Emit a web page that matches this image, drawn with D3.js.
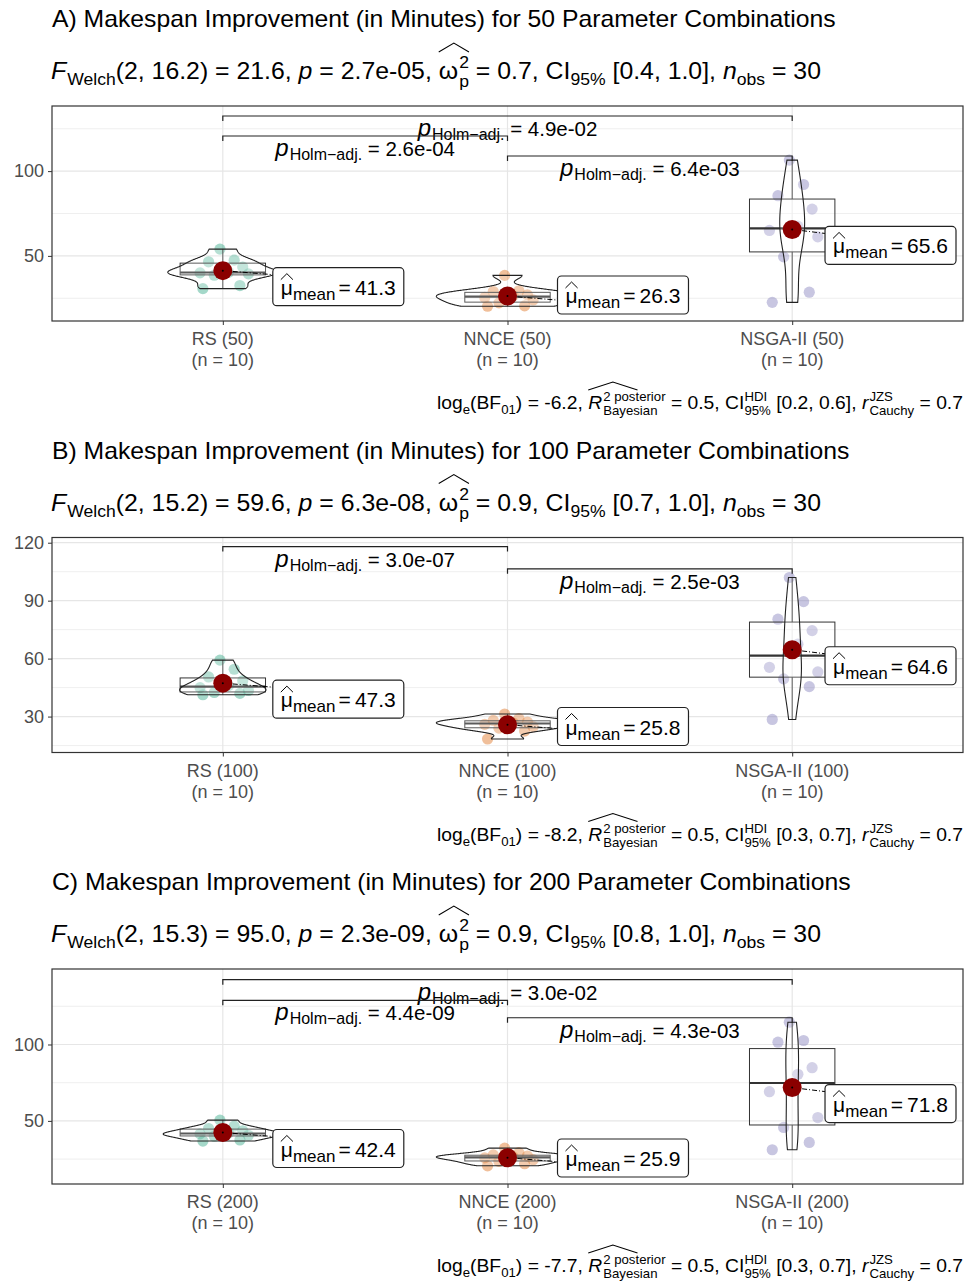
<!DOCTYPE html>
<html><head><meta charset="utf-8">
<script src="https://cdn.jsdelivr.net/npm/d3@7"></script>
<style>
body{margin:0;background:#fff}
svg{display:block}
text{font-family:"Liberation Sans", Arial, sans-serif; white-space:pre}
</style>
</head><body>
<svg id="chart" width="978" height="1283"></svg>
<script>
// ---------------- DATA ----------------
const groups = ["RS", "NNCE", "NSGA-II"];
const combos = [50, 100, 200];
const panelLetters = ["A", "B", "C"];
const nPerGroup = ["10", "10", "10"];

const rs50    = [30.7, 32.5, 38.6, 39.4, 40, 40.4, 43.4, 46.5, 47.5, 54];
const nnce50  = [20.3, 20.5, 22.3, 24, 25.5, 26.5, 27, 29, 29.4, 38.5];
const nsga50  = [22.6, 28.6, 49.4, 61.2, 65, 67.5, 77.6, 85.5, 92.1, 106.5];

const rs100   = [41.3, 42, 42.5, 43.5, 45, 46, 48.5, 50.5, 54.5, 59.2];
const nnce100 = [18.4, 22.5, 24, 24.8, 26, 26.8, 27.2, 28, 29, 31.3];
const nsga100 = [28.5, 45.5, 49.5, 53.1, 55.5, 67.5, 74.5, 80.4, 89.5, 102];

const rs200   = [36.8, 37.5, 40, 40.6, 41.5, 42, 43.5, 45, 46.6, 50.5];
const nnce200 = [20.6, 22, 23.5, 24.6, 25.8, 26.4, 27, 27.7, 29.2, 32.2];
const nsga200 = [31.1, 35.9, 45.7, 52.2, 69.1, 80.5, 84.8, 101.5, 102.6, 114.6];

// Welch ANOVA results
const welchDf2 = ["16.2", "15.2", "15.3"];
const welchF   = ["21.6", "59.6", "95.0"];
const welchP   = ["2.7e-05", "6.3e-08", "2.3e-09"];
const omegaSq  = ["0.7", "0.9", "0.9"];
const omegaCI  = ["[0.4, 1.0]", "[0.7, 1.0]", "[0.8, 1.0]"];
const nObs     = ["30", "30", "30"];
// Bayesian results
const logBF01  = ["-6.2", "-8.2", "-7.7"];
const r2Bayes  = ["0.5", "0.5", "0.5"];
const r2CI     = ["[0.2, 0.6]", "[0.3, 0.7]", "[0.3, 0.7]"];
const rCauchy  = ["0.7", "0.7", "0.7"];
// pairwise Holm-adjusted p values: [from, to, label]
const pairsA = [["RS", "NSGA-II", "4.9e-02"], ["RS", "NNCE", "2.6e-04"], ["NNCE", "NSGA-II", "6.4e-03"]];
const pairsB = [["RS", "NNCE", "3.0e-07"], ["NNCE", "NSGA-II", "2.5e-03"]];
const pairsC = [["RS", "NSGA-II", "3.0e-02"], ["RS", "NNCE", "4.4e-09"], ["NNCE", "NSGA-II", "4.3e-03"]];
// y-axis ticks
const ticksA = [50, 100];
const ticksB = [30, 60, 90, 120];
const ticksC = [50, 100];

// ---------------- LAYOUT ----------------
const W = 978;
const panelStep = 431.5;
const plotL = 52, plotR = 963;
const colors = ["#1B9E77", "#D95F02", "#7570B3"];
const JITTER = [-0.07, 0.06, -0.03, 0.09, -0.08, 0.02, 0.07, -0.05, 0.04, -0.01];
const panels = [
  {data: [rs50, nnce50, nsga50], pairs: pairsA, ticks: ticksA, domain: [11.6, 138.4], bracketY: [132.5, 120.7, 108.9]},
  {data: [rs100, nnce100, nsga100], pairs: pairsB, ticks: ticksB, domain: [11.4, 122.7], bracketY: [118, 106.5]},
  {data: [rs200, nnce200, nsga200], pairs: pairsC, ticks: ticksC, domain: [8.7, 149.4], bracketY: [142.4, 128.9, 117.5]}
];

const svg = d3.select("#chart");
svg.append("rect").attr("width", W).attr("height", 1283).attr("fill", "#fff");

// ---------- rich text helper ----------
function rich(parent, parts) {
  const g = parent.append("g");
  let x = 0; let hatStart = null; const hats = [];
  parts.forEach(p => {
    let w = 0;
    const items = p.stack ? p.stack : [p];
    items.forEach(s => {
      const t = g.append("text").attr("x", x).attr("y", s.dy || 0)
        .attr("font-size", s.size).attr("fill", s.fill || "#000").text(s.t);
      if (s.it) t.attr("font-style", "italic");
      w = Math.max(w, t.node().getComputedTextLength());
    });
    if (p.hatStart) hatStart = x;
    if (p.hatEnd) hats.push({x0: hatStart, x1: x + w * (p.hatFrac == null ? 1 : p.hatFrac), hy0: p.hy0, hy1: p.hy1});
    x += w + (p.gap || 0);
  });
  hats.forEach(h => {
    g.append("path").attr("d", `M${h.x0},${-h.hy0}L${(h.x0 + h.x1) / 2},${-h.hy1}L${h.x1},${-h.hy0}`)
      .attr("fill", "none").attr("stroke", "#000").attr("stroke-width", 1);
  });
  return {g, width: x};
}

// ---------- stats helpers ----------
function nrd0(v) {
  const sd = d3.deviation(v);
  const iqr = d3.quantile(v, 0.75) - d3.quantile(v, 0.25);
  let lo = Math.min(sd, iqr / 1.34);
  if (!(lo > 0)) lo = sd || 1;
  return 0.9 * lo * Math.pow(v.length, -0.2);
}
function kde(v, bw, pts) {
  return pts.map(x => d3.mean(v, xi => Math.exp(-0.5 * ((x - xi) / bw) ** 2) / (bw * Math.sqrt(2 * Math.PI))));
}

let kTitle = null, kSub = null, kCap = null;

panels.forEach((P, pi) => {
  const off = pi * panelStep;
  const top = 106 + off, bottom = 321 + off;
  const names = groups.map(g => `${g} (${combos[pi]})`);
  const x = d3.scalePoint().domain(groups).range([plotL, plotR]).padding(0.6);
  const step = x.step();
  const y = d3.scaleLinear().domain(P.domain).range([bottom, top]);
  const root = svg.append("g");

  // ---- title ----
  const title = rich(root, [{t: `${panelLetters[pi]}) Makespan Improvement (in Minutes) for ${combos[pi]} Parameter Combinations`, size: 23}]);
  if (kTitle === null) kTitle = 784 / title.width;
  title.g.attr("transform", `translate(52,${27 + off}) scale(${kTitle},1)`);

  // ---- subtitle ----
  const S = 24, s = 17;
  const sub = rich(root, [
    {t: "F", it: true, size: S, gap: 1},
    {t: "Welch", size: s, dy: 6},
    {t: `(2, ${welchDf2[pi]}) = ${welchF[pi]}, `, size: S},
    {t: "p", it: true, size: S},
    {t: ` = ${welchP[pi]}, `, size: S},
    {t: "ω", size: S, hatStart: true, gap: 1},
    {stack: [{t: "2", size: s, dy: -11}, {t: "p", size: s, dy: 8}], hatEnd: true, hy0: 27, hy1: 36},
    {t: ` = ${omegaSq[pi]}, CI`, size: S},
    {t: "95%", size: s, dy: 6},
    {t: ` ${omegaCI[pi]}, `, size: S},
    {t: "n", it: true, size: S},
    {t: "obs", size: s, dy: 6},
    {t: ` = ${nObs[pi]}`, size: S}
  ]);
  if (kSub === null) kSub = 770 / sub.width;
  sub.g.attr("transform", `translate(51,${79 + off}) scale(${kSub},1)`);

  // ---- caption ----
  const C = 19, c = 13;
  const cap = rich(root, [
    {t: "log", size: C},
    {t: "e", size: c, dy: 5},
    {t: "(BF", size: C},
    {t: "01", size: c, dy: 5},
    {t: `) = ${logBF01[pi]}, `, size: C},
    {t: "R", it: true, size: C, hatStart: true, gap: 1},
    {stack: [{t: "2 posterior", size: c, dy: -8}, {t: "Bayesian", size: c, dy: 6}], hatEnd: true, hatFrac: 0.55, hy0: 19, hy1: 27},
    {t: ` = ${r2Bayes[pi]}, CI`, size: C},
    {stack: [{t: "HDI", size: c, dy: -8}, {t: "95%", size: c, dy: 6}]},
    {t: ` ${r2CI[pi]}, `, size: C},
    {t: "r", it: true, size: C, gap: 1},
    {stack: [{t: "JZS", size: c, dy: -8}, {t: "Cauchy", size: c, dy: 6}]},
    {t: ` = ${rCauchy[pi]}`, size: C}
  ]);
  if (kCap === null) kCap = 526 / cap.width;
  cap.g.attr("transform", `translate(${plotR - cap.width * kCap},${409 + off}) scale(${kCap},1)`);

  // ---- grid ----
  const tk = P.ticks;
  const tStep = tk[1] - tk[0];
  const minor = [];
  for (let v = tk[0] - tStep / 2; v <= P.domain[1]; v += tStep) if (v >= P.domain[0]) minor.push(v);
  root.append("g").selectAll("line").data(minor).join("line")
    .attr("x1", plotL).attr("x2", plotR).attr("y1", d => y(d)).attr("y2", d => y(d))
    .attr("stroke", "#EBEBEB").attr("stroke-width", 0.8);
  root.append("g").selectAll("line").data(tk).join("line")
    .attr("x1", plotL).attr("x2", plotR).attr("y1", d => y(d)).attr("y2", d => y(d))
    .attr("stroke", "#E6E6E6").attr("stroke-width", 1.2);
  root.append("g").selectAll("line").data(groups).join("line")
    .attr("x1", d => x(d)).attr("x2", d => x(d)).attr("y1", top).attr("y2", bottom)
    .attr("stroke", "#E6E6E6").attr("stroke-width", 1.2);

  // ---- axes ----
  const yAxis = d3.axisLeft(y).tickValues(tk).tickSize(4).tickPadding(4);
  const ya = root.append("g").attr("transform", `translate(${plotL},0)`).call(yAxis);
  ya.select(".domain").remove();
  ya.selectAll(".tick line").attr("stroke", "#333");
  ya.selectAll(".tick text").attr("font-size", 18).attr("fill", "#4D4D4D").attr("font-family", "Liberation Sans, Arial, sans-serif");
  const xAxis = d3.axisBottom(x).tickSize(4).tickFormat(() => "");
  const xa = root.append("g").attr("transform", `translate(0,${bottom})`).call(xAxis);
  xa.select(".domain").remove();
  xa.selectAll(".tick line").attr("stroke", "#333");
  groups.forEach((g, gi) => {
    root.append("text").attr("x", x(g)).attr("y", 345 + off).attr("text-anchor", "middle")
      .attr("font-size", 18).attr("fill", "#4D4D4D").text(names[gi]);
    root.append("text").attr("x", x(g)).attr("y", 366 + off).attr("text-anchor", "middle")
      .attr("font-size", 18).attr("fill", "#4D4D4D").text(`(n = ${nPerGroup[gi]})`);
  });

  // ---- points ----
  P.data.forEach((vals, gi) => {
    root.append("g").selectAll("circle").data(vals).join("circle")
      .attr("cx", (d, i) => x(groups[gi]) + JITTER[i] * step)
      .attr("cy", d => y(d)).attr("r", 5.6)
      .attr("fill", colors[gi]).attr("fill-opacity", 0.4);
  });

  // ---- boxplots ----
  P.data.forEach((vals, gi) => {
    const cx = x(groups[gi]);
    const q1 = d3.quantile(vals, 0.25), med = d3.quantile(vals, 0.5), q3 = d3.quantile(vals, 0.75);
    const iqr = q3 - q1;
    const lo = d3.min(vals.filter(v => v >= q1 - 1.5 * iqr));
    const hi = d3.max(vals.filter(v => v <= q3 + 1.5 * iqr));
    const hw = 0.15 * step;
    const bg = root.append("g");
    bg.append("line").attr("x1", cx).attr("x2", cx).attr("y1", y(hi)).attr("y2", y(q3)).attr("stroke", "#333").attr("stroke-width", 1);
    bg.append("line").attr("x1", cx).attr("x2", cx).attr("y1", y(q1)).attr("y2", y(lo)).attr("stroke", "#333").attr("stroke-width", 1);
    bg.append("rect").attr("x", cx - hw).attr("width", 2 * hw).attr("y", y(q3)).attr("height", y(q1) - y(q3))
      .attr("fill", "#fff").attr("fill-opacity", 0.2).attr("stroke", "#333").attr("stroke-width", 1);
    bg.append("line").attr("x1", cx - hw).attr("x2", cx + hw).attr("y1", y(med)).attr("y2", y(med))
      .attr("stroke", "#333").attr("stroke-width", 2.2);
  });

  // ---- violins ----
  const dens = P.data.map(vals => {
    const bw = nrd0(vals);
    const mn = d3.min(vals), mx = d3.max(vals);
    const pts = d3.range(0, 201).map(i => mn + (mx - mn) * i / 200);
    return {pts, d: kde(vals, bw, pts)};
  });
  const dmax = d3.max(dens, o => d3.max(o.d));
  dens.forEach((o, gi) => {
    const cx = x(groups[gi]);
    const hw = v => (v / dmax) * 0.25 * step;
    const right = o.pts.map((p, i) => [cx + hw(o.d[i]), y(p)]);
    const left = o.pts.map((p, i) => [cx - hw(o.d[i]), y(p)]).reverse();
    root.append("path").attr("d", d3.line()(right.concat(left)) + "Z")
      .attr("fill", "#fff").attr("fill-opacity", 0.2).attr("stroke", "#222").attr("stroke-width", 1.1);
  });

  // ---- brackets ----
  P.pairs.forEach((pr, k) => {
    const x1 = x(pr[0]), x2 = x(pr[1]), by = y(P.bracketY[k]);
    root.append("path").attr("d", `M${x1},${by + 5}V${by}H${x2}V${by + 5}`)
      .attr("fill", "none").attr("stroke", "#222").attr("stroke-width", 1.2);
    const lab = rich(root, [
      {t: "p", it: true, size: 24, gap: 1},
      {t: "Holm−adj.", size: 16, dy: 4},
      {t: " = " + pr[2], size: 20.5}
    ]);
    lab.g.attr("transform", `translate(${(x1 + x2) / 2 - lab.width / 2},${by + 20})`);
  });

  // ---- means and labels ----
  P.data.forEach((vals, gi) => {
    const cx = x(groups[gi]);
    const m = d3.mean(vals);
    const ym = y(m);
    const lg = root.append("g");
    const lab = rich(lg, [
      {t: "μ", size: 21, hatStart: true, hatEnd: true, hy0: 15, hy1: 21},
      {t: "mean", size: 17, dy: 5, gap: 3},
      {t: "=\u2009" + d3.format(".1f")(m), size: 21}
    ]);
    const bw = lab.width + 16, bh = 38;
    const bxL = Math.min(cx + 50, plotR - 7 - bw);
    const byC = Math.min(ym + 16, bottom - 7 - bh / 2);
    const byT = byC - bh / 2;
    root.append("line").attr("x1", cx).attr("y1", ym)
      .attr("x2", bxL).attr("y2", Math.max(byT, Math.min(ym + 4, byT + bh)))
      .attr("stroke", "#000").attr("stroke-width", 1).attr("stroke-dasharray", "5,2,1,2");
    root.append("circle").attr("cx", cx).attr("cy", ym).attr("r", 9.5).attr("fill", "#8B0000");
    root.append("circle").attr("cx", cx).attr("cy", ym).attr("r", 1).attr("fill", "#000");
    root.append("rect").attr("x", bxL).attr("y", byT).attr("width", bw).attr("height", bh)
      .attr("rx", 4).attr("fill", "#fff").attr("stroke", "#222").attr("stroke-width", 1.2);
    lg.raise();
    lab.g.attr("transform", `translate(${bxL + 8},${byT + 27})`);
  });

  // ---- panel border ----
  root.append("rect").attr("x", plotL).attr("y", top).attr("width", plotR - plotL).attr("height", bottom - top)
    .attr("fill", "none").attr("stroke", "#333").attr("stroke-width", 1.2);
});
</script>
</body></html>
